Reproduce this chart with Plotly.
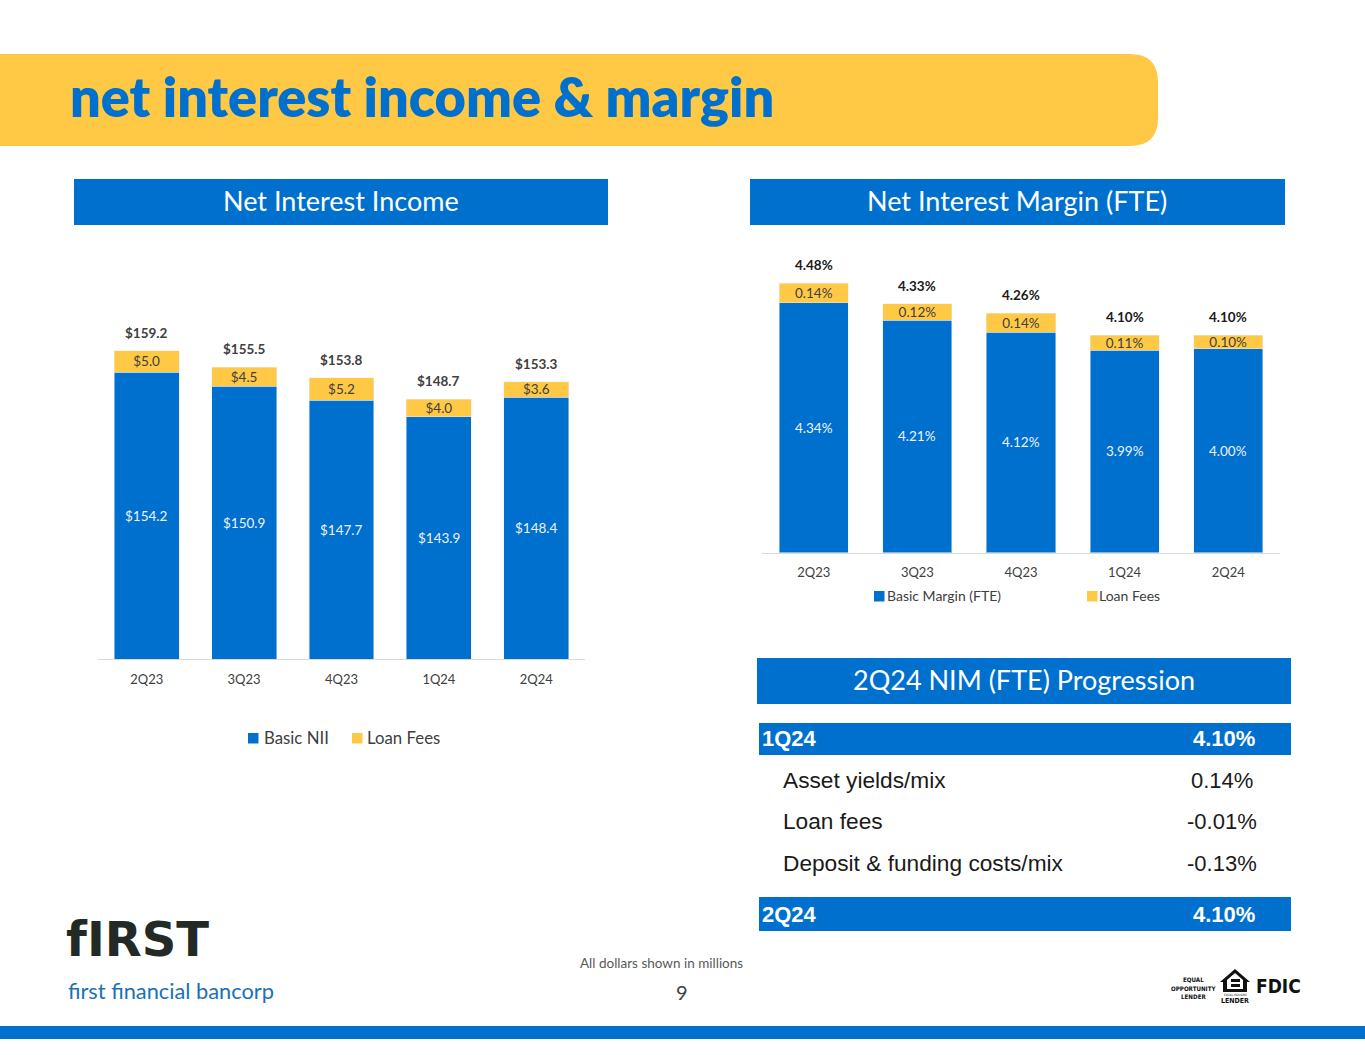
import plotly.graph_objects as go

W = 1365
H = 1055

BLUE = "#0070CE"
YELLOW = "#FFC845"

quarters = ["2Q23", "3Q23", "4Q23", "1Q24", "2Q24"]

# left chart, $ millions
basic_nii = [154.2, 150.9, 147.7, 143.9, 148.4]
nii_loan_fees = [5.0, 4.5, 5.2, 4.0, 3.6]
nii_totals = [159.2, 155.5, 153.8, 148.7, 153.3]

# right chart, percent
basic_margin = [4.34, 4.21, 4.12, 3.99, 4.00]
nim_loan_fees = [0.14, 0.12, 0.14, 0.11, 0.10]
nim_totals = [4.48, 4.33, 4.26, 4.10, 4.10]

# both value axes are truncated in the original
nii_range = [87.5, 171]
nim_range = [2.5, 4.8]

# progression table
prog_labels = ["Asset yields/mix", "Loan fees", "Deposit & funding costs/mix"]
prog_values = ["0.14%", "-0.01%", "-0.13%"]
prog_start = ["1Q24", "4.10%"]
prog_end = ["2Q24", "4.10%"]


def px(x):
    return x / W


def py(y):
    return 1 - y / H


def rect(x0, y0, x1, y1, color):
    return dict(type="rect", xref="paper", yref="paper", x0=px(x0), x1=px(x1),
                y0=py(y0), y1=py(y1), fillcolor=color, line_width=0, layer="below")


def poly(points, color):
    path = "M" + " L".join(f"{px(x):.5f},{py(y):.5f}" for x, y in points) + " Z"
    return dict(type="path", xref="paper", yref="paper", path=path,
                fillcolor=color, line_width=0, layer="below")


def note(x, y, text, size, color, family="Lato", anchor="center", bold=False, weight=None):
    font = dict(size=size, color=color, family=family)
    if weight:
        font["weight"] = weight
    return dict(xref="paper", yref="paper", x=px(x), y=py(y), text=f"<b>{text}</b>" if bold else text,
                showarrow=False, xanchor=anchor, yanchor="middle", font=font, borderpad=0, borderwidth=0)


def add_stack(fig, xaxis, yaxis, low, high, low_name, high_name, fmt):
    fig.add_trace(go.Bar(x=quarters, y=low, name=low_name, marker_color=BLUE, xaxis=xaxis, yaxis=yaxis))
    fig.add_trace(go.Bar(x=quarters, y=high, name=high_name, marker_color=YELLOW, xaxis=xaxis, yaxis=yaxis,
                         text=[fmt.format(v) for v in high], textposition="inside",
                         insidetextanchor="middle", constraintext="none", textangle=0,
                         insidetextfont=dict(size=13.5, color="#404040", family="Lato")))


def bar_notes(low, high, totals, axis_min, fmt, color, xref, yref):
    out = []
    for q, a, b, t in zip(quarters, low, high, totals):
        # inside text vanishes on a truncated axis, so centre it on the visible part of the bar
        out.append(dict(xref=xref, yref=yref, x=q, y=(axis_min + a) / 2, text=fmt.format(a),
                        showarrow=False, font=dict(size=13.5, color="#EEF3FA", family="Lato")))
        # label sits above the stack, the printed total does not always equal the sum
        out.append(dict(xref=xref, yref=yref, x=q, y=a + b, yshift=18, text=f"<b>{fmt.format(t)}</b>",
                        showarrow=False, font=dict(size=13.5, color=color, family="Lato")))
    return out


def legend_items(y, items, size):
    # swatch sits tighter to the text than a plotly legend allows
    marks = []
    labels = []
    for swatch_x, text_x, color, name in items:
        marks.append(rect(swatch_x, y - 5, swatch_x + 10.5, y + 5.5, color))
        labels.append(note(text_x, y - 1, name, size, "#404040", anchor="left"))
    return marks, labels


fig = go.Figure()
add_stack(fig, "x", "y", basic_nii, nii_loan_fees, "Basic NII", "Loan Fees", "${:.1f}")
add_stack(fig, "x2", "y2", basic_margin, nim_loan_fees, "Basic Margin (FTE)", "Loan Fees", "{:.2f}%")

axis_x = dict(showline=True, linecolor="#D9D9D9", linewidth=1, ticks="", showgrid=False,
              tickfont=dict(size=13, color="#404040", family="Lato"), ticklabelstandoff=8)
axis_y = dict(visible=False, showgrid=False, zeroline=False)

shapes = [
    # banner with rounded right end
    dict(type="path", xref="paper", yref="paper", fillcolor=YELLOW, line_width=0, layer="below",
         path=f"M0,{py(54)} L{px(1130)},{py(54)} Q{px(1158)},{py(54)} {px(1158)},{py(82)} "
              f"L{px(1158)},{py(118)} Q{px(1158)},{py(146)} {px(1130)},{py(146)} L0,{py(146)} Z"),
    rect(74, 179, 608, 225, BLUE),
    rect(750, 179, 1285, 225, BLUE),
    rect(757, 658, 1291, 704, BLUE),
    rect(759, 723, 1291, 755, BLUE),
    rect(759, 897, 1291, 931, BLUE),
    rect(0, 1026, W, 1039, BLUE),
    # equal housing house
    poly([(1235, 969), (1250, 982), (1247, 982), (1247, 992), (1223, 992), (1223, 982), (1220, 982)], "#111111"),
    poly([(1235, 973), (1243, 980), (1243, 989), (1227, 989), (1227, 980)], "#FFFFFF"),
    rect(1231, 979, 1240, 982, "#111111"),
    rect(1231, 984, 1240, 987, "#111111"),
]

CONDENSED = "DejaVu Sans Condensed"
annotations = [
    note(70, 97, "net interest income &amp; margin", 54, BLUE, anchor="left", weight=800),
    note(341, 201, "Net Interest Income", 27, "#FFFFFF"),
    note(1017, 201, "Net Interest Margin (FTE)", 27, "#FFFFFF"),
    note(1024, 679.5, "2Q24 NIM (FTE) Progression", 27, "#FFFFFF"),
    note(762, 738, prog_start[0], 22, "#FFFFFF", "Liberation Sans", "left", True),
    note(1224, 738, prog_start[1], 22, "#FFFFFF", "Liberation Sans", bold=True),
    note(762, 914, prog_end[0], 22, "#FFFFFF", "Liberation Sans", "left", True),
    note(1224, 914, prog_end[1], 22, "#FFFFFF", "Liberation Sans", bold=True),
    note(661, 963, "All dollars shown in millions", 13.5, "#595959"),
    note(682, 992, "9", 20, "#404040"),
    note(66, 939, "fIRST", 48, "#232A25", "DejaVu Sans", "left", True),
    note(68, 990, "first financial bancorp", 21.8, "#1A72B5", anchor="left"),
    note(1193, 979.5, "EQUAL", 6.2, "#111111", CONDENSED, bold=True),
    note(1193, 988, "OPPORTUNITY", 6.2, "#111111", CONDENSED, bold=True),
    note(1193, 996.5, "LENDER", 6.2, "#111111", CONDENSED, bold=True),
    note(1235, 994.5, "EQUAL HOUSING", 3, "#111111", CONDENSED),
    note(1235, 1000.5, "LENDER", 7, "#111111", CONDENSED, bold=True),
    note(1278.5, 986, "FDIC", 19, "#111111", CONDENSED, bold=True),
]

annotations += bar_notes(basic_nii, nii_loan_fees, nii_totals, nii_range[0], "${:.1f}", "#404040", "x", "y")
annotations += bar_notes(basic_margin, nim_loan_fees, nim_totals, nim_range[0], "{:.2f}%", "#1A1A1A", "x2", "y2")

for row_y, label, value in zip([780, 821, 863], prog_labels, prog_values):
    annotations.append(note(783, row_y, label.replace("&", "&amp;"), 22.7, "#1A1A1A", "Liberation Sans", "left"))
    annotations.append(note(1222, row_y, value, 22, "#1A1A1A", "Liberation Sans"))

left_marks, left_labels = legend_items(738, [(248, 263.5, BLUE, "Basic NII"), (352, 367, YELLOW, "Loan Fees")], 16.8)
right_marks, right_labels = legend_items(596, [(874, 887, BLUE, "Basic Margin (FTE)"), (1087, 1099, YELLOW, "Loan Fees")], 14)
shapes += left_marks + right_marks
annotations += left_labels + right_labels

fig.update_layout(
    width=W,
    height=H,
    margin=dict(l=0, r=0, t=0, b=0),
    paper_bgcolor="#FFFFFF",
    plot_bgcolor="#FFFFFF",
    barmode="stack",
    bargap=0.333,
    showlegend=False,
    xaxis=dict(axis_x, domain=[px(98), px(585)], anchor="y"),
    yaxis=dict(axis_y, domain=[py(659), py(300)], range=nii_range, anchor="x"),
    xaxis2=dict(axis_x, domain=[px(762), px(1280)], anchor="y2"),
    yaxis2=dict(axis_y, domain=[py(552.5), py(240)], range=nim_range, anchor="x2"),
    shapes=shapes,
    annotations=annotations,
)

fig.write_html("out.html", config=dict(displayModeBar=False), post_script="document.body.style.margin='0';")
